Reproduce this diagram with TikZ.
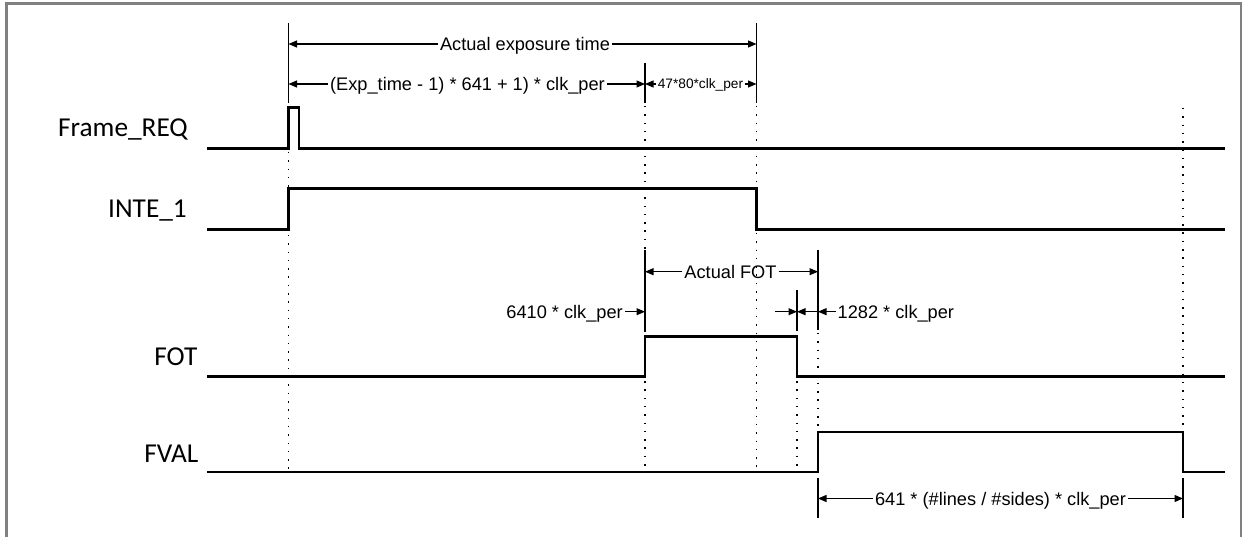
\documentclass[tikz,border=0pt]{standalone}
\usepackage{fontspec}
\setmainfont{Liberation Sans}
\newfontfamily\calib{Carlito}
\usetikzlibrary{arrows.meta}
\definecolor{frame}{HTML}{808080}
\begin{document}
\begin{tikzpicture}[x=1pt,y=-1pt,
  sig/.style={line width=2.8pt, line join=miter},
  ext/.style={line width=1.1pt},
  dotl/.style={line width=1.6pt, dash pattern=on 1.5pt off 6.8pt},
  dimtip/.style={line width=1.1pt, -{Triangle[length=8.5pt,width=7pt]}},
  lab/.style={font=\fontsize{18.2}{20}\selectfont, inner xsep=2pt, inner ysep=0pt, text height=13pt, text depth=0pt},
  smalllab/.style={font=\fontsize{13.7}{15}\selectfont, inner xsep=1.5pt, inner ysep=0pt, text height=9.8pt, text depth=0pt},
  slab/.style={font=\calib\fontsize{27.3}{30}\selectfont, anchor=base east, inner sep=0pt}]
\useasboundingbox (0,0) rectangle (1248,537);
% frame
\draw[frame, line width=2.5pt] (6.5,560) -- (6.5,3.3) -- (1241,3.3) -- (1241,560);

% signal labels
\node[slab] (lfr) at (188,137) {Frame\_REQ};
\node[slab] (lin) at (187,218) {INTE\_1};
\node[slab] (lfo) at (197.5,365.5) {FOT};
\node[slab] (lfv) at (198.5,462.7) {FVAL};

% signals
\draw[sig] (207,148.3) -- (288.5,148.3) -- (288.5,107.7) -- (299,107.7) -- (299,148.3) -- (1225,148.3);
\draw[sig] (207,229.3) -- (288.5,229.3) -- (288.5,188.5) -- (756.5,188.5) -- (756.5,229.3) -- (1225,229.3);
\draw[sig] (207,376.7) -- (645,376.7) -- (645,336.5) -- (797,336.5) -- (797,376.7) -- (1225,376.7);
\draw[sig] (207,472) -- (818,472) -- (818,432) -- (1183,432) -- (1183,472) -- (1225,472);

% dotted guides
\draw[dotl] (288.5,152) -- (288.5,470);
\draw[dotl] (645,106) -- (645,250);
\draw[dotl] (645,381) -- (645,470);
\draw[dotl] (756.5,106) -- (756.5,186);
\draw[dotl] (756.5,233) -- (756.5,470);
\draw[dotl] (797,381) -- (797,470);
\draw[dotl] (818,333) -- (818,430);
\draw[dotl] (1183,108) -- (1183,430);

% extension lines
\coordinate (e1t) at (288.5,23); \coordinate (e1b) at (288.5,103);
\coordinate (e2t) at (756.5,23); \coordinate (e2b) at (756.5,103);
\coordinate (e3t) at (645,63);   \coordinate (e3b) at (645,103);
\coordinate (e4t) at (645,250);  \coordinate (e4b) at (645,332);
\coordinate (e5t) at (818,250);  \coordinate (e5b) at (818,330);
\coordinate (e6t) at (797,290);  \coordinate (e6b) at (797,331);
\coordinate (e7t) at (818,478);  \coordinate (e7b) at (818,518);
\coordinate (e8t) at (1183,478); \coordinate (e8b) at (1183,518);
\foreach \e in {1,...,8} \draw[ext] (e\e t) -- (e\e b);

% dimension: actual exposure time
\coordinate (a1l) at (288.5,44); \coordinate (a1r) at (756.5,44);
\node[lab] (d1) at (525,44) {Actual exposure time};
\draw[dimtip] (d1.west |- a1l) -- (a1l);
\draw[dimtip] (d1.east |- a1r) -- (a1r);

% dimension: (Exp_time - 1) ...
\coordinate (a2l) at (288.5,84); \coordinate (a2r) at (645,84);
\node[lab] (d2) at (467.5,84) {(Exp\_time - 1) * 641 + 1) * clk\_per};
\draw[dimtip] (d2.west |- a2l) -- (a2l);
\draw[dimtip] (d2.east |- a2r) -- (a2r);

% dimension: 47*80*clk_per
\coordinate (a3l) at (645,84); \coordinate (a3r) at (756.5,84);
\node[smalllab] (d3) at (700.5,84) {47*80*clk\_per};
\draw[dimtip] (d3.west |- a3l) -- (a3l);
\draw[dimtip] (d3.east |- a3r) -- (a3r);

% dimension: Actual FOT
\coordinate (a4l) at (645,271.7); \coordinate (a4r) at (818,271.7);
\node[lab] (d4) at (730.5,271.7) {Actual FOT};
\draw[dimtip] (d4.west |- a4l) -- (a4l);
\draw[dimtip] (d4.east |- a4r) -- (a4r);

% 6410 * clk_per
\coordinate (a5r) at (645,311.7);
\node[lab, anchor=east] (d5) at (625,311.7) {6410 * clk\_per};
\draw[dimtip] (d5.east |- a5r) -- (a5r);

% 1282 * clk_per
\coordinate (a6s) at (775,311.7); \coordinate (a6l) at (797,311.7); \coordinate (a6r) at (818,311.7);
\node[lab, anchor=west] (d6) at (835.5,311.7) {1282 * clk\_per};
\draw[dimtip] (a6s) -- (a6l);
\draw[dimtip] (a6r) -- (a6l);
\draw[dimtip] (d6.west |- a6r) -- (a6r);

% dimension: FVAL length
\coordinate (a7l) at (818,498.5); \coordinate (a7r) at (1183,498.5);
\node[lab] (d7) at (1000.5,498.5) {641 * (\#lines / \#sides) * clk\_per};
\draw[dimtip] (d7.west |- a7l) -- (a7l);
\draw[dimtip] (d7.east |- a7r) -- (a7r);
\end{tikzpicture}
\end{document}
